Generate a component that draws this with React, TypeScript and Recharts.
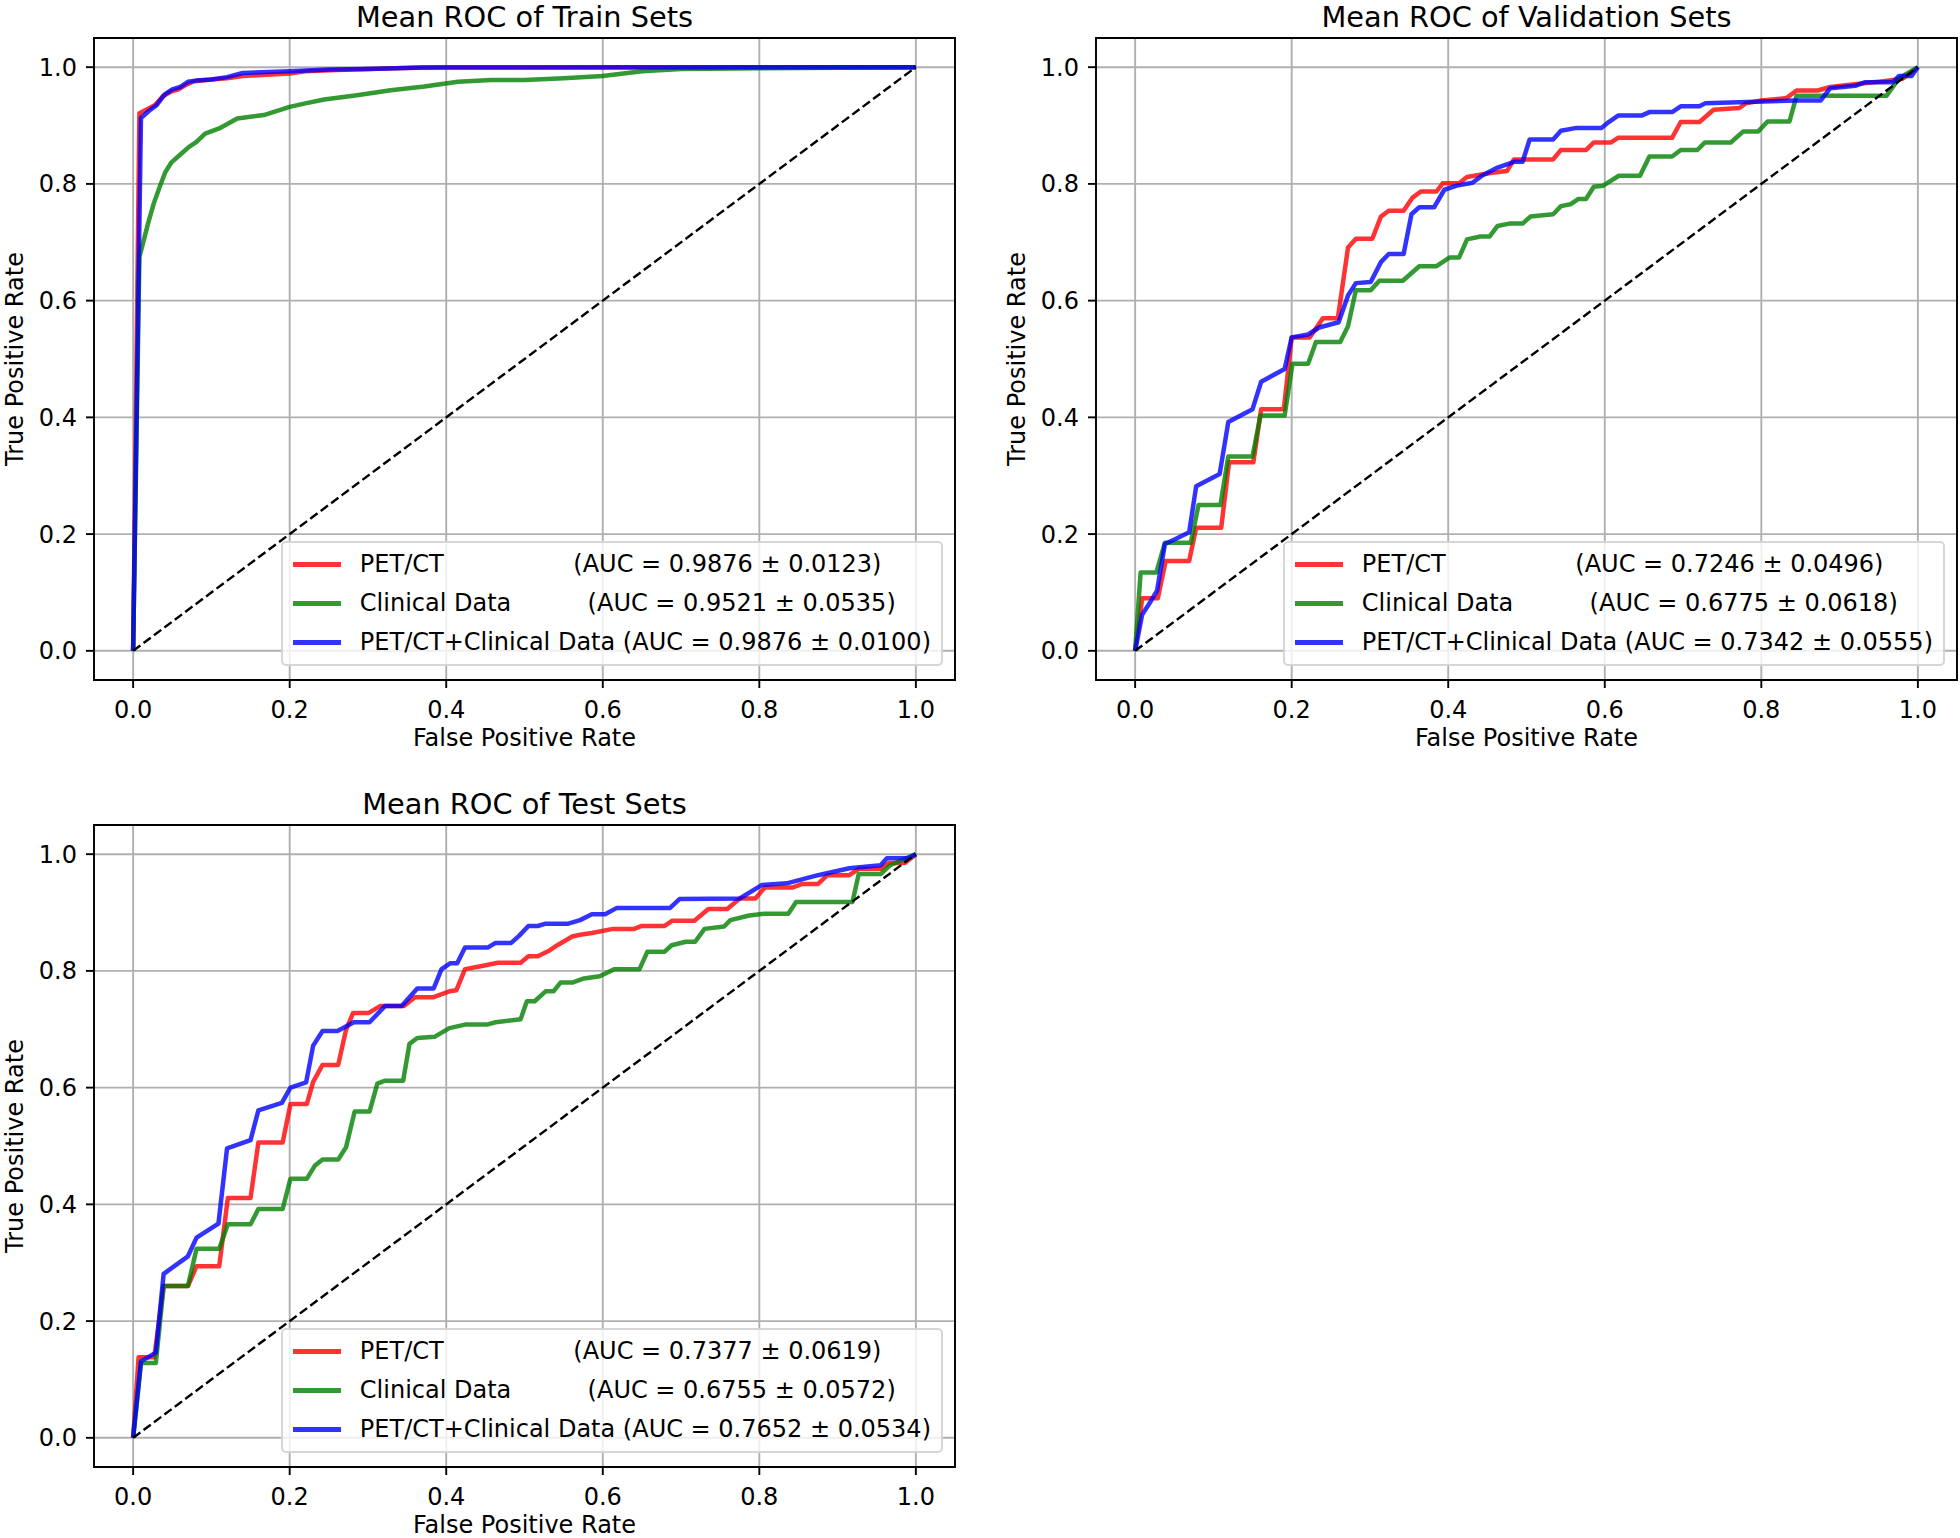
import React from 'react'
import {
  LineChart, Line, CartesianGrid, XAxis, YAxis, Legend, ReferenceArea,
} from 'recharts'

type Pt = [number, number]

const seriesNames = ['PET/CT', 'Clinical Data', 'PET/CT+Clinical Data']
// matplotlib labels were padded with spaces so the AUC columns roughly line up
const namePad = [17, 10, 1]
const seriesColors = ['#ff0000', '#008000', '#0000ff']
const axisTicks = [0, 0.2, 0.4, 0.6, 0.8, 1.0]
const chanceLine: Pt[] = [[0, 0], [1, 1]]

const trainAuc = ['0.9876 ± 0.0123', '0.9521 ± 0.0535', '0.9876 ± 0.0100']
const valAuc = ['0.7246 ± 0.0496', '0.6775 ± 0.0618', '0.7342 ± 0.0555']
const testAuc = ['0.7377 ± 0.0619', '0.6755 ± 0.0572', '0.7652 ± 0.0534']

const trainPetCt: Pt[] = [
  [0, 0], [0.008, 0.921], [0.018, 0.928], [0.028, 0.935], [0.038, 0.95], [0.048, 0.958],
  [0.058, 0.962], [0.068, 0.97], [0.078, 0.976], [0.1, 0.979], [0.12, 0.981], [0.14, 0.985],
  [0.17, 0.987], [0.2, 0.989], [0.22, 0.993], [0.26, 0.995], [0.3, 0.997], [0.36, 0.999],
  [0.4, 1], [1, 1],
]
const trainClinical: Pt[] = [
  [0, 0], [0.008, 0.675], [0.011, 0.69], [0.019, 0.732], [0.026, 0.765], [0.034, 0.795],
  [0.041, 0.82], [0.049, 0.837], [0.06, 0.85], [0.071, 0.863], [0.081, 0.872], [0.092, 0.886],
  [0.11, 0.895], [0.133, 0.912], [0.167, 0.918], [0.2, 0.932], [0.22, 0.938], [0.244, 0.9445],
  [0.286, 0.952], [0.329, 0.9605], [0.372, 0.967], [0.415, 0.975], [0.457, 0.978], [0.5, 0.978],
  [0.55, 0.981], [0.6, 0.985], [0.65, 0.993], [0.7, 0.997], [0.8, 0.998], [1, 1],
]
const trainCombined: Pt[] = [
  [0, 0], [0.01, 0.913], [0.02, 0.925], [0.03, 0.935], [0.04, 0.953], [0.05, 0.962],
  [0.06, 0.966], [0.07, 0.975], [0.08, 0.977], [0.1, 0.979], [0.12, 0.983], [0.14, 0.99],
  [0.2, 0.993], [0.25, 0.996], [0.3, 0.997], [0.37, 0.9995], [1, 1],
]

const valPetCt: Pt[] = [
  [0, 0], [0.009, 0.09], [0.029, 0.09], [0.039, 0.154], [0.069, 0.154], [0.078, 0.211],
  [0.11, 0.211], [0.12, 0.323], [0.151, 0.323], [0.161, 0.414], [0.19, 0.414], [0.2, 0.537],
  [0.223, 0.537], [0.24, 0.57], [0.259, 0.57], [0.272, 0.691], [0.282, 0.706], [0.303, 0.706],
  [0.314, 0.744], [0.324, 0.754], [0.343, 0.754], [0.354, 0.776], [0.365, 0.787], [0.385, 0.787],
  [0.393, 0.801], [0.414, 0.801], [0.424, 0.812], [0.456, 0.819], [0.475, 0.822], [0.484, 0.842],
  [0.534, 0.842], [0.544, 0.858], [0.576, 0.858], [0.586, 0.871], [0.608, 0.871], [0.617, 0.879],
  [0.686, 0.879], [0.697, 0.906], [0.721, 0.906], [0.739, 0.927], [0.772, 0.93], [0.78, 0.938],
  [0.8, 0.943], [0.832, 0.947], [0.845, 0.96], [0.872, 0.96], [0.888, 0.966], [0.928, 0.972],
  [0.956, 0.976], [0.98, 0.98], [1, 1],
]
const valClinical: Pt[] = [
  [0, 0], [0.007, 0.134], [0.027, 0.134], [0.038, 0.185], [0.071, 0.185], [0.081, 0.25],
  [0.109, 0.25], [0.119, 0.333], [0.15, 0.333], [0.16, 0.403], [0.191, 0.403], [0.201, 0.492],
  [0.221, 0.492], [0.231, 0.529], [0.262, 0.529], [0.272, 0.556], [0.282, 0.618], [0.301, 0.618],
  [0.312, 0.634], [0.342, 0.634], [0.363, 0.659], [0.385, 0.659], [0.402, 0.674], [0.414, 0.674],
  [0.424, 0.705], [0.441, 0.71], [0.453, 0.71], [0.463, 0.728], [0.478, 0.732], [0.495, 0.732],
  [0.505, 0.744], [0.534, 0.748], [0.544, 0.762], [0.556, 0.765], [0.566, 0.774], [0.576, 0.774],
  [0.586, 0.795], [0.598, 0.797], [0.618, 0.814], [0.645, 0.814], [0.657, 0.847], [0.686, 0.847],
  [0.697, 0.858], [0.718, 0.858], [0.728, 0.871], [0.761, 0.871], [0.777, 0.89], [0.796, 0.89],
  [0.808, 0.907], [0.836, 0.907], [0.845, 0.951], [0.96, 0.951], [0.976, 0.981], [1, 1],
]
const valCombined: Pt[] = [
  [0, 0], [0.009, 0.062], [0.02, 0.085], [0.028, 0.103], [0.038, 0.183], [0.049, 0.19],
  [0.069, 0.203], [0.078, 0.282], [0.108, 0.303], [0.119, 0.392], [0.15, 0.414], [0.161, 0.461],
  [0.191, 0.483], [0.2, 0.537], [0.221, 0.542], [0.235, 0.554], [0.26, 0.563], [0.272, 0.609],
  [0.282, 0.63], [0.301, 0.632], [0.314, 0.666], [0.324, 0.68], [0.343, 0.68], [0.353, 0.748],
  [0.363, 0.76], [0.382, 0.76], [0.395, 0.79], [0.411, 0.797], [0.431, 0.802], [0.444, 0.815],
  [0.463, 0.828], [0.485, 0.838], [0.495, 0.838], [0.504, 0.876], [0.534, 0.876], [0.544, 0.891],
  [0.564, 0.896], [0.596, 0.896], [0.605, 0.906], [0.617, 0.917], [0.647, 0.917], [0.657, 0.923],
  [0.686, 0.923], [0.697, 0.933], [0.721, 0.933], [0.728, 0.938], [0.845, 0.943], [0.876, 0.943],
  [0.888, 0.964], [0.92, 0.968], [0.932, 0.974], [0.968, 0.974], [0.976, 0.985], [0.992, 0.985],
  [1, 1],
]

const testPetCt: Pt[] = [
  [0, 0], [0.007, 0.138], [0.027, 0.138], [0.039, 0.26], [0.07, 0.26], [0.081, 0.294],
  [0.11, 0.294], [0.121, 0.411], [0.15, 0.411], [0.16, 0.506], [0.191, 0.506], [0.201, 0.572],
  [0.222, 0.572], [0.23, 0.61], [0.242, 0.639], [0.262, 0.639], [0.272, 0.699], [0.281, 0.728],
  [0.301, 0.728], [0.316, 0.74], [0.346, 0.74], [0.36, 0.755], [0.384, 0.755], [0.404, 0.765],
  [0.413, 0.767], [0.424, 0.803], [0.444, 0.808], [0.466, 0.814], [0.495, 0.814], [0.505, 0.825],
  [0.517, 0.825], [0.532, 0.835], [0.542, 0.844], [0.561, 0.859], [0.571, 0.862], [0.586, 0.865],
  [0.613, 0.872], [0.64, 0.872], [0.65, 0.877], [0.679, 0.877], [0.689, 0.886], [0.717, 0.886],
  [0.735, 0.906], [0.759, 0.906], [0.775, 0.924], [0.795, 0.924], [0.807, 0.943], [0.843, 0.943],
  [0.855, 0.949], [0.875, 0.949], [0.887, 0.964], [0.915, 0.964], [0.927, 0.975], [0.955, 0.975],
  [0.966, 0.985], [0.986, 0.985], [1, 1],
]
const testClinical: Pt[] = [
  [0, 0], [0.01, 0.128], [0.029, 0.128], [0.039, 0.26], [0.07, 0.26], [0.081, 0.324],
  [0.11, 0.324], [0.121, 0.366], [0.15, 0.366], [0.16, 0.392], [0.191, 0.392], [0.201, 0.444],
  [0.222, 0.444], [0.232, 0.466], [0.242, 0.477], [0.262, 0.477], [0.272, 0.498], [0.283, 0.559],
  [0.302, 0.559], [0.312, 0.607], [0.322, 0.612], [0.345, 0.612], [0.353, 0.675], [0.363, 0.685],
  [0.385, 0.687], [0.404, 0.702], [0.424, 0.708], [0.452, 0.708], [0.463, 0.712], [0.495, 0.717],
  [0.503, 0.748], [0.513, 0.748], [0.527, 0.765], [0.537, 0.765], [0.546, 0.78], [0.561, 0.78],
  [0.576, 0.787], [0.596, 0.791], [0.615, 0.803], [0.647, 0.803], [0.657, 0.833], [0.679, 0.833],
  [0.688, 0.844], [0.706, 0.85], [0.718, 0.85], [0.73, 0.872], [0.755, 0.876], [0.763, 0.887],
  [0.787, 0.895], [0.807, 0.898], [0.837, 0.898], [0.847, 0.918], [0.919, 0.918], [0.927, 0.966],
  [0.955, 0.966], [0.967, 0.981], [1, 1],
]
const testCombined: Pt[] = [
  [0, 0], [0.01, 0.131], [0.029, 0.146], [0.039, 0.281], [0.07, 0.311], [0.081, 0.343],
  [0.109, 0.367], [0.12, 0.496], [0.15, 0.51], [0.16, 0.561], [0.19, 0.574], [0.201, 0.6],
  [0.221, 0.609], [0.23, 0.672], [0.242, 0.697], [0.261, 0.697], [0.282, 0.712], [0.302, 0.712],
  [0.322, 0.74], [0.343, 0.74], [0.363, 0.77], [0.384, 0.77], [0.394, 0.803], [0.405, 0.813],
  [0.414, 0.813], [0.424, 0.84], [0.453, 0.84], [0.463, 0.848], [0.483, 0.848], [0.493, 0.86],
  [0.505, 0.877], [0.517, 0.877], [0.527, 0.881], [0.556, 0.881], [0.571, 0.887], [0.586, 0.897],
  [0.603, 0.897], [0.618, 0.908], [0.686, 0.908], [0.698, 0.923], [0.775, 0.924], [0.803, 0.947],
  [0.835, 0.95], [0.875, 0.964], [0.915, 0.976], [0.955, 0.981], [0.963, 0.993], [0.99, 0.993],
  [1, 1],
]

const FONT = 'DejaVu Sans, sans-serif'
const toRows = (pts: Pt[]) => pts.map(([fpr, tpr]) => ({ fpr, tpr }))

interface PanelProps {
  title: string
  curves: Pt[][]
  auc: string[]
  left: number
  top: number
  width: number
  height: number
  plot: { left: number; top: number; right: number; bottom: number }
}

function RocLegend({ auc }: { auc: string[] }) {
  return (
    <div style={{
      background: 'rgba(255,255,255,0.8)', border: '2.4px solid rgba(204,204,204,0.8)',
      borderRadius: 5, padding: '8px 10px', fontFamily: FONT, fontSize: 24, color: '#000',
    }}>
      {seriesNames.map((name, i) => (
        <div key={name} style={{ display: 'flex', alignItems: 'center', height: 27, marginTop: i ? 12 : 0 }}>
          <span style={{ width: 48, height: 4.5, background: seriesColors[i], opacity: 0.8, marginRight: 19 }} />
          <span style={{ whiteSpace: 'pre', lineHeight: '27px' }}>
            {name + ' '.repeat(namePad[i]) + '(AUC = ' + auc[i] + ')'}
          </span>
        </div>
      ))}
    </div>
  )
}

function RocPanel({ title, curves, auc, left, top, width, height, plot }: PanelProps) {
  const xAxisH = 60
  const midX = (plot.left + plot.right) / 2
  const midY = (plot.top + plot.bottom) / 2
  const tick = { fontSize: 24, fontFamily: FONT, fill: '#000' }
  return (
    <div style={{ position: 'absolute', left, top, width, height }}>
      <LineChart
        width={width}
        height={height}
        margin={{ top: plot.top, right: width - plot.right, bottom: height - plot.bottom - xAxisH, left: 0 }}
        style={{ fontFamily: FONT }}
      >
        <CartesianGrid stroke="#b0b0b0" strokeWidth={1.9} />
        <XAxis
          type="number"
          dataKey="fpr"
          domain={[-0.05, 1.05]}
          ticks={axisTicks}
          allowDataOverflow
          tickFormatter={v => v.toFixed(1)}
          tick={tick}
          tickLine={{ stroke: '#000', strokeWidth: 1.9 }}
          tickSize={8}
          tickMargin={13}
          axisLine={false}
          height={xAxisH}
        />
        <YAxis
          type="number"
          domain={[-0.05, 1.05]}
          ticks={axisTicks}
          allowDataOverflow
          tickFormatter={v => v.toFixed(1)}
          tick={tick}
          tickLine={{ stroke: '#000', strokeWidth: 1.9 }}
          tickSize={8}
          tickMargin={9}
          axisLine={false}
          width={plot.left}
        />
        <ReferenceArea x1={-0.05} x2={1.05} y1={-0.05} y2={1.05} fill="none" stroke="#000" strokeWidth={1.9} />
        {curves.map((pts, i) => (
          <Line
            key={seriesNames[i]}
            data={toRows(pts)}
            dataKey="tpr"
            type="linear"
            stroke={seriesColors[i]}
            strokeOpacity={0.8}
            strokeWidth={4.5}
            strokeLinejoin="round"
            dot={false}
            legendType="line"
            isAnimationActive={false}
          />
        ))}
        <Line
          data={toRows(chanceLine)}
          dataKey="tpr"
          type="linear"
          stroke="#000"
          strokeWidth={2.4}
          strokeDasharray="9 4"
          dot={false}
          legendType="none"
          isAnimationActive={false}
        />
        <Legend
          layout="vertical"
          align="center"
          verticalAlign="middle"
          content={() => <RocLegend auc={auc} />}
          wrapperStyle={{ left: 'auto', top: 'auto', right: width - plot.right + 12, bottom: height - plot.bottom + 14 }}
        />
      </LineChart>
      <svg
        width={width}
        height={height}
        style={{ position: 'absolute', left: 0, top: 0, pointerEvents: 'none', overflow: 'visible' }}
      >
        <text x={midX} y={plot.top - 11} textAnchor="middle" fontFamily={FONT} fontSize={28.8} fill="#000">{title}</text>
        <text x={midX} y={plot.bottom + 66} textAnchor="middle" fontFamily={FONT} fontSize={24} fill="#000">False Positive Rate</text>
        <text
          x={plot.left - 71}
          y={midY}
          textAnchor="middle"
          fontFamily={FONT}
          fontSize={24}
          fill="#000"
          transform={`rotate(-90 ${plot.left - 71} ${midY})`}
        >True Positive Rate</text>
      </svg>
    </div>
  )
}

export default function App() {
  return (
    <div style={{ position: 'absolute', left: 0, top: 0, width: 1960, height: 1538, background: '#fff' }}>
      <RocPanel
        title="Mean ROC of Train Sets"
        curves={[trainPetCt, trainClinical, trainCombined]}
        auc={trainAuc}
        left={0} top={0} width={980} height={770}
        plot={{ left: 94, top: 38, right: 955, bottom: 680 }}
      />
      <RocPanel
        title="Mean ROC of Validation Sets"
        curves={[valPetCt, valClinical, valCombined]}
        auc={valAuc}
        left={980} top={0} width={980} height={770}
        plot={{ left: 116, top: 38, right: 977, bottom: 680 }}
      />
      <RocPanel
        title="Mean ROC of Test Sets"
        curves={[testPetCt, testClinical, testCombined]}
        auc={testAuc}
        left={0} top={770} width={980} height={768}
        plot={{ left: 94, top: 55, right: 955, bottom: 697 }}
      />
    </div>
  )
}
